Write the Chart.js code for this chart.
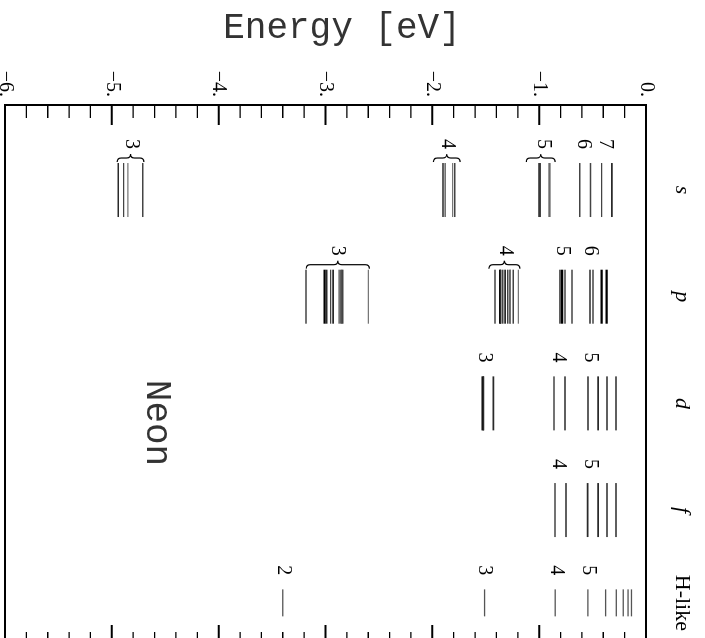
<!DOCTYPE html>
<html>
<head>
<meta charset="utf-8">
<script src="https://cdn.jsdelivr.net/npm/chart.js@4.4.1/dist/chart.umd.min.js"></script>
<style>
  html, body { margin: 0; padding: 0; background: #fff; width: 705px; height: 638px; overflow: hidden; }
  #wrap { position: absolute; left: 0; top: 0; width: 650px; height: 705px;
          transform-origin: 0 0; transform: translateX(705px) rotate(90deg); }
</style>
</head>
<body>
<div id="wrap"><canvas id="levels" width="650" height="705"></canvas></div>
<script>
// columns of the level diagram
const colNames = ['s', 'p', 'd', 'f', 'H-like'];
const colX = [1, 2, 3, 4, 4.87];

// binding energies (eV) and J of each level
const sLevels = [-4.94, -4.89, -4.85, -4.71, -1.90, -1.88, -1.81, -1.79,
  -1.00, -0.99, -0.91, -0.90, -0.62, -0.52, -0.415, -0.32];
const sJ = [2, 1, 0, 1, 2, 1, 0, 1, 2, 1, 0, 1, 1, 1, 1, 2];
const pLevels = [-3.183, -3.009, -2.989, -2.952, -2.928, -2.872, -2.854, -2.845, -2.839, -2.599,
  -1.413, -1.366, -1.362, -1.341, -1.319, -1.294, -1.273, -1.270, -1.242, -1.195,
  -0.805, -0.786, -0.758, -0.692, -0.524, -0.496, -0.415, -0.368];
const pJ = [1, 3, 2, 1, 2, 1, 2, 0, 1, 0, 1, 3, 2, 1, 2, 1, 2, 0, 1, 0, 2, 3, 1, 1, 2, 1, 3, 3];
const dLevels = [-1.528, -1.522, -1.429, -0.861, -0.758, -0.543, -0.449, -0.365, -0.281];
const dJ = [3, 2, 2, 1, 2, 2, 2, 2, 2];
const fLevels = [-0.852, -0.749, -0.546, -0.449, -0.365, -0.281];
const fJ = [1, 2, 2, 2, 2, 2];
const hLevels = [-3.40, -1.511, -0.850, -0.544, -0.378, -0.278, -0.213, -0.168, -0.136];

// n labels and braces
const sTags = ['3', '4', '5', '6', '7'];
const sTagE = [-4.82, -1.86, -0.96, -0.59, -0.38];
const sBraceLo = [-4.95, -1.99, -1.12, null, null];
const sBraceHi = [-4.70, -1.74, -0.85, null, null];
const pTags = ['3', '4', '5', '6'];
const pTagE = [-2.89, -1.32, -0.78, -0.52];
const pBraceLo = [-3.18, -1.47, null, null];
const pBraceHi = [-2.59, -1.18, null, null];
const dTags = ['3', '4', '5'];
const dTagE = [-1.51, -0.82, -0.52];
const fTags = ['4', '5'];
const fTagE = [-0.82, -0.52];
const hTags = ['2', '3', '4', '5'];
const hTagE = [-3.40, -1.51, -0.84, -0.54];

const energyTicks = [-6, -5, -4, -3, -2, -1, 0];

const jColor = ['#777777', '#444444', '#2a2a2a', '#000000'];
const jWidth = [1.1, 1.4, 1.7, 2.3];

function levelSet(levels, js, i) {
  return {
    data: levels.map(e => ({ x: colX[i], y: e })),
    showLine: false,
    pointStyle: 'line',
    pointRadius: i === 4 ? 13.5 : 27,
    pointHoverRadius: i === 4 ? 13.5 : 27,
    pointBorderColor: js ? js.map(j => jColor[j]) : '#555',
    pointBorderWidth: js ? js.map(j => jWidth[j]) : 1.3
  };
}

const tagSets = [
  [sTags, sTagE, sBraceLo, sBraceHi],
  [pTags, pTagE, pBraceLo, pBraceHi],
  [dTags, dTagE, [], []],
  [fTags, fTagE, [], []],
  [hTags, hTagE, [], []]
];

function brace(ctx, x, y1, y2, w) {
  const ym = (y1 + y2) / 2;
  const h = Math.min(w / 2, (y2 - y1) / 4);
  ctx.beginPath();
  ctx.moveTo(x + w, y1);
  ctx.quadraticCurveTo(x + w / 2, y1, x + w / 2, y1 + h);
  ctx.lineTo(x + w / 2, ym - h);
  ctx.quadraticCurveTo(x + w / 2, ym, x, ym);
  ctx.quadraticCurveTo(x + w / 2, ym, x + w / 2, ym + h);
  ctx.lineTo(x + w / 2, y2 - h);
  ctx.quadraticCurveTo(x + w / 2, y2, x + w, y2);
  ctx.stroke();
}

function noPad(s) {
  s.paddingLeft = s.paddingRight = s.paddingTop = s.paddingBottom = 0;
}

const deco = {
  id: 'deco',
  afterDraw(chart) {
    const { ctx, chartArea: a, scales: { x, y } } = chart;
    ctx.save();
    ctx.strokeStyle = '#000';
    ctx.lineWidth = 2;
    ctx.strokeRect(a.left, a.top, a.right - a.left, a.bottom - a.top);

    // inward ticks on both energy sides
    for (let k = 0; k <= 30; k++) {
      const py = y.getPixelForValue(-6 + k * 0.2);
      const major = k % 5 === 0;
      const len = major ? 20 : 13;
      ctx.lineWidth = major ? 2 : 1.3;
      ctx.beginPath();
      ctx.moveTo(a.left, py); ctx.lineTo(a.left + len, py);
      ctx.moveTo(a.right, py); ctx.lineTo(a.right - len, py);
      ctx.stroke();
    }

    // n labels + braces
    ctx.fillStyle = '#000';
    ctx.font = '20px "Liberation Serif"';
    ctx.textAlign = 'center';
    ctx.textBaseline = 'middle';
    ctx.lineWidth = 1.2;
    tagSets.forEach((t, i) => {
      const half = i === 4 ? 13.5 : 27;
      const start = x.getPixelForValue(colX[i]) - half;
      t[0].forEach((n, k) => {
        ctx.fillText(n, start - 19, y.getPixelForValue(t[1][k]));
        if (t[2][k] != null) {
          brace(ctx, start - 9, y.getPixelForValue(t[3][k]), y.getPixelForValue(t[2][k]), 8);
        }
      });
    });

    // texts in typewriter face
    ctx.fillStyle = '#333';
    ctx.font = '36px "Liberation Mono"';
    ctx.textBaseline = 'alphabetic';
    ctx.fillText('Neon', 423, 558);
    ctx.translate(38, 363);
    ctx.rotate(-Math.PI / 2);
    ctx.fillText('Energy [eV]', 0, 0);
    ctx.restore();
  }
};

new Chart(document.getElementById('levels'), {
  type: 'scatter',
  data: {
    datasets: [
      levelSet(sLevels, sJ, 0),
      levelSet(pLevels, pJ, 1),
      levelSet(dLevels, dJ, 2),
      levelSet(fLevels, fJ, 3),
      levelSet(hLevels, null, 4)
    ]
  },
  options: {
    responsive: false,
    animation: false,
    events: [],
    devicePixelRatio: 1,
    layout: { autoPadding: false, padding: { left: 0, top: 0, right: 5, bottom: 5 } },
    plugins: { legend: { display: false }, tooltip: { enabled: false } },
    scales: {
      x: {
        type: 'linear',
        position: 'top',
        min: 0.203,
        max: 5.265,
        grid: { display: false, drawTicks: false },
        border: { display: false },
        afterBuildTicks: s => { s.ticks = colX.map(v => ({ value: v })); },
        afterFit: s => { s.height = 59; noPad(s); },
        ticks: {
          autoSkip: false,
          maxRotation: 0,
          padding: 23,
          color: '#000',
          font: c => ({ family: 'Liberation Serif', size: 22, style: c.index === 4 ? 'normal' : 'italic' }),
          callback: (v, i) => colNames[i]
        }
      },
      y: {
        type: 'linear',
        min: -6,
        max: 0,
        grid: { display: false, drawTicks: false },
        border: { display: false },
        afterBuildTicks: s => { s.ticks = energyTicks.map(v => ({ value: v })); },
        afterFit: s => { s.width = 105; noPad(s); },
        ticks: {
          padding: 8,
          color: '#000',
          font: { family: 'Liberation Serif', size: 20 },
          callback: v => (v < 0 ? '\u2212' + Math.abs(v) : v) + '.'
        }
      }
    }
  },
  plugins: [deco]
});
</script>
</body>
</html>
